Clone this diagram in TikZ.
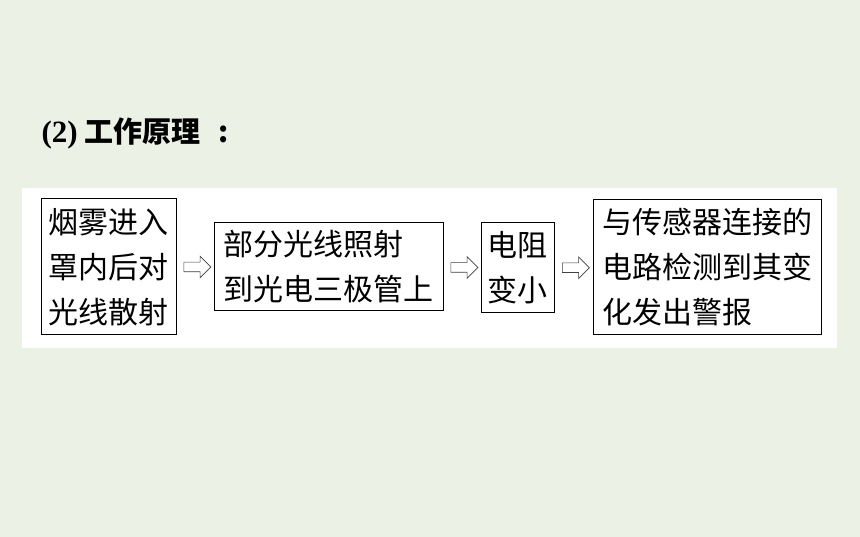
\documentclass[tikz,border=0pt]{standalone}
\usepackage{fontspec}
\newfontfamily\cjk{Noto Sans CJK SC}
\newfontfamily\numfont{Liberation Serif}
\usetikzlibrary{shapes.arrows}
\definecolor{paleGreen}{HTML}{EBF1E4}

\begin{document}
\begin{tikzpicture}[x=1pt,y=-1pt,
    every node/.append style={align=left},
    stepbox/.style={draw, line width=1pt, inner sep=0pt,
      font=\cjk\fontsize{30}{45}\selectfont},
    hollow/.style={single arrow, draw=black!75, fill=white, line width=0.6pt,
      inner xsep=0pt, inner ysep=4.5pt, minimum height=27pt,
      single arrow head extend=6pt}]
    \useasboundingbox (0,0) rectangle (860,537);
    \fill[paleGreen] (0,0) rectangle (860,537);
    \fill[white] (22,188) rectangle (837,348);
    \node[anchor=west, font=\fontsize{28}{30}\selectfont\bfseries] (title) at (38,133)
      {\numfont\fontsize{31}{32}\selectfont (2)\hspace{7pt}\cjk\fontsize{29}{30}\selectfont 工作原理\hspace{18pt}:};
    \node[stepbox, minimum width=135pt, minimum height=136pt] (smoke) at (108.5,267)
      {烟雾进入\\罩内后对\\光线散射};
    \node[stepbox, minimum width=229pt, minimum height=88pt]  (light) at (328.5,267)
      {部分光线照射\\到光电三极管上};
    \node[stepbox, minimum width=73pt,  minimum height=90pt]  (resist) at (517.5,268)
      {电阻\\变小};
    \node[stepbox, minimum width=228pt, minimum height=135pt] (alarm) at (707,267.5)
      {与传感器连接的\\电路检测到其变\\化发出警报};
    \path (smoke.east)  -- node[hollow] {} (light.west);
    \path (light.east)  -- node[hollow] {} (resist.west);
    \path (resist.east) -- node[hollow] {} (alarm.west);
\end{tikzpicture}
\end{document}
